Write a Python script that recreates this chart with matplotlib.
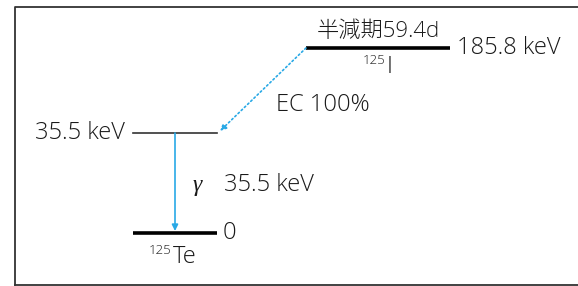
import matplotlib
matplotlib.use('Agg')
import matplotlib.pyplot as plt

plt.rcParams['font.family'] = ['Open Sans', 'Noto Sans CJK JP', 'DejaVu Sans']

# decay scheme data
parent = ('125', 'I')
daughter = ('125', 'Te')
half_life = '59.4d'
level_energies = [185.8, 35.5, 0.0]   # keV
ec_branch = 100                       # %
gamma_energy = 35.5                   # keV

blue = '#29a9e6'
txt = '#1a1a1a'

fig = plt.figure(figsize=(5.78, 2.86), dpi=100)
ax = fig.add_axes([0, 0, 1, 1])
ax.set_xlim(0, 578)
ax.set_ylim(286, 0)
ax.axis('off')

# frame
ax.plot([15, 15, 600], [285, 7, 7], color='#333333', lw=1.3, clip_on=False)
ax.plot([15, 600], [285, 285], color='#333333', lw=1.3, clip_on=False)

# vertical positions of the levels in the drawing
row = {level_energies[0]: 48, level_energies[1]: 133, level_energies[2]: 233}
fs = 17
tkw = dict(fontsize=fs, color=txt, fontweight='light')

def nuclide(x, y, name):
    ax.text(x - 1, y - 9, name[0], ha='right', va='baseline', fontsize=9.5,
            color=txt, fontweight='light')
    ax.text(x + 1, y, name[1], ha='left', va='baseline', **tkw)

# parent level
y0 = row[level_energies[0]]
ax.plot([306, 450], [y0, y0], color='black', lw=2.6, solid_capstyle='butt')
ax.text(378, y0 - 6, '半減期' + half_life, ha='center', va='bottom',
        fontsize=16, color=txt, fontweight='light')
nuclide(386, 73, parent)
ax.text(457, y0, f'{level_energies[0]} keV', ha='left', va='center', **tkw)

# excited level
y1 = row[level_energies[1]]
ax.plot([133, 217], [y1, y1], color='#333333', lw=1.2)
ax.text(125, y1, f'{level_energies[1]} keV', ha='right', va='center', **tkw)

# ground level
y2 = row[level_energies[2]]
ax.plot([133, 217], [y2, y2], color='black', lw=2.6, solid_capstyle='butt')
ax.text(223, y2, f'{level_energies[2]:g}', ha='left', va='center', **tkw)
nuclide(172, 263, daughter)

# EC transition
ax.annotate('', xy=(220, y1 - 2), xytext=(306, y0),
            arrowprops=dict(arrowstyle='-|>', color=blue, lw=1.2, ls=':',
                            mutation_scale=9, shrinkA=0, shrinkB=0))
ax.text(276, 105, f'EC {ec_branch}%', ha='left', va='center', **tkw)

# gamma transition
ax.annotate('', xy=(175, y2 - 2), xytext=(175, y1),
            arrowprops=dict(arrowstyle='-|>', color=blue, lw=1.2,
                            mutation_scale=9, shrinkA=0, shrinkB=0))
ax.text(197, 186, 'γ', ha='center', va='center', fontsize=fs, color=txt,
        family='Liberation Serif', style='italic')
ax.text(224, 185, f'{gamma_energy} keV', ha='left', va='center', **tkw)

fig.savefig('out.png', dpi=100)
